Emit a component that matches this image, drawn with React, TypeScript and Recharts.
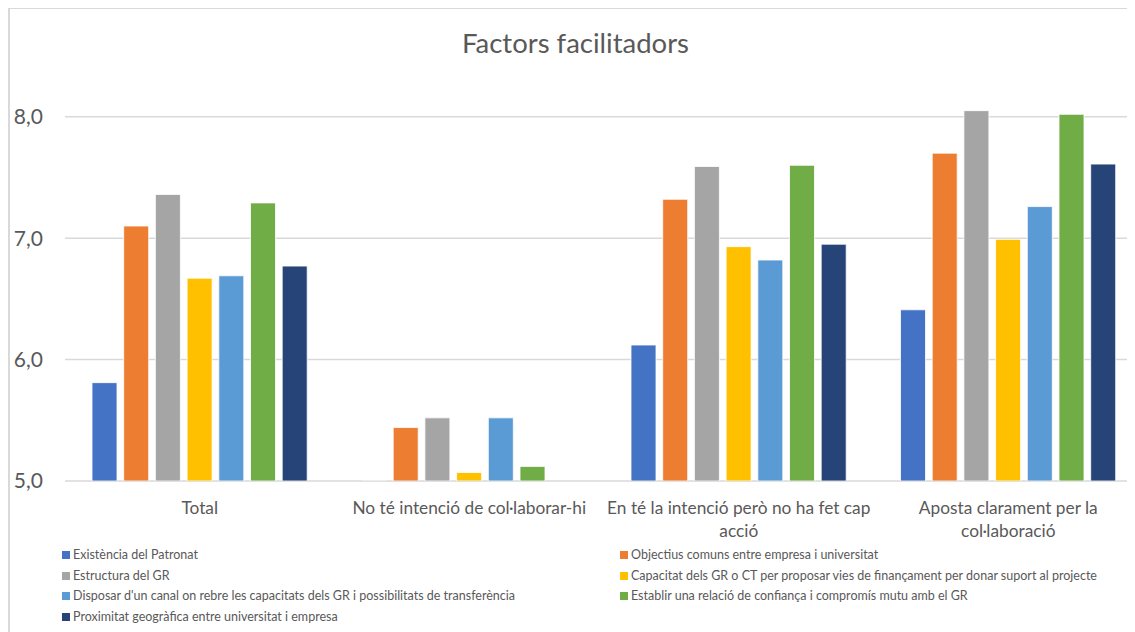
import { BarChart, Bar, XAxis, YAxis, CartesianGrid } from "recharts";

const categories = [
  "Total",
  "No té intenció de col·laborar-hi",
  "En té la intenció però no ha fet cap acció",
  "Aposta clarament per la col·laboració",
];

// un array per factor, en l'ordre de les categories
const patronat = [5.81, 4.99, 6.12, 6.41];
const objectius = [7.1, 5.44, 7.32, 7.7];
const estructura = [7.36, 5.52, 7.59, 8.05];
const capacitat = [6.67, 5.07, 6.93, 6.99];
const canal = [6.69, 5.52, 6.82, 7.26];
const confianca = [7.29, 5.12, 7.6, 8.02];
const proximitat = [6.77, null, 6.95, 7.61];

const yTicks = [5, 6, 7, 8];

const SERIES = [
  { key: "patronat", name: "Existència del Patronat", color: "#4472C4", values: patronat },
  { key: "objectius", name: "Objectius comuns entre empresa i universitat", color: "#ED7D31", values: objectius },
  { key: "estructura", name: "Estructura del GR", color: "#A5A5A5", values: estructura },
  {
    key: "capacitat",
    name: "Capacitat dels GR o CT per proposar vies de finançament per donar suport al projecte",
    color: "#FFC000",
    values: capacitat,
  },
  {
    key: "canal",
    name: "Disposar d'un canal on rebre les capacitats dels GR i possibilitats de transferència",
    color: "#5B9BD5",
    values: canal,
  },
  {
    key: "confianca",
    name: "Establir una relació de confiança i compromís mutu amb el GR",
    color: "#70AD47",
    values: confianca,
  },
  { key: "proximitat", name: "Proximitat geogràfica entre universitat i empresa", color: "#264478", values: proximitat },
];

const data = categories.map((cat, i) => {
  const row: any = { cat };
  SERIES.forEach((s) => (row[s.key] = s.values[i]));
  return row;
});

const FONT = "Lato, 'Open Sans', sans-serif";
const GREY = "#595959";
const CAT_FONT = 17.3;

// partir l'etiqueta en línies que càpiguen a l'amplada de la categoria
let ctx: CanvasRenderingContext2D | null = null;
const wrap = (label: string, maxW: number) => {
  if (!ctx) ctx = document.createElement("canvas").getContext("2d");
  ctx!.font = `${CAT_FONT}px Lato`;
  const words = label.split(" ");
  const lines: string[] = [];
  let cur = "";
  words.forEach((w) => {
    const test = cur ? cur + " " + w : w;
    if (cur && ctx!.measureText(test).width > maxW) {
      lines.push(cur);
      cur = w;
    } else cur = test;
  });
  if (cur) lines.push(cur);
  return lines;
};

const CategoryTick = ({ x, y, payload }: any) => {
  const lines = wrap(payload.value, 266);
  return (
    <text x={x} y={y} textAnchor="middle" fontSize={CAT_FONT} fontFamily={FONT} fill={GREY}>
      {lines.map((l, i) => (
        <tspan key={i} x={x} dy={i === 0 ? 33 : 23}>
          {l}
        </tspan>
      ))}
    </text>
  );
};

const formatTick = (v: number) => v.toFixed(1).replace(".", ",");

export default function App() {
  return (
    <div style={{ position: "relative", width: 1127, height: 625, marginTop: -1, overflow: "hidden", background: "#fff" }}>
      <div
        style={{
          position: "absolute",
          left: 0,
          top: 0,
          width: 1200,
          height: 700,
          borderTop: "2px solid #d9d9d9",
          borderLeft: "2px solid #d9d9d9",
          pointerEvents: "none",
          zIndex: 2,
        }}
      />
      <div
        style={{
          position: "absolute",
          left: 0,
          top: 19,
          width: 1135,
          textAlign: "center",
          fontFamily: FONT,
          fontSize: 27.5,
          color: GREY,
          zIndex: 1,
        }}
      >
        Factors facilitadors
      </div>
      <BarChart
        width={1135}
        height={625}
        data={data}
        margin={{ top: 49, right: 0, bottom: 91, left: 0 }}
        barSize={25}
        barGap={6.7}
        barCategoryGap={27}
      >
        <CartesianGrid vertical={false} horizontalValues={yTicks} stroke="#d9d9d9" strokeWidth={1.5} />
        <XAxis
          dataKey="cat"
          axisLine={false}
          tickLine={false}
          tickSize={0}
          tickMargin={0}
          interval={0}
          height={60}
          tick={<CategoryTick />}
        />
        <YAxis
          type="number"
          domain={[5, 8.5]}
          ticks={yTicks}
          allowDataOverflow
          axisLine={false}
          tickLine={false}
          tickSize={0}
          tickMargin={22}
          width={57}
          tickFormatter={formatTick}
          tick={{ fontSize: 21, fontFamily: FONT, fill: GREY }}
        />
        {SERIES.map((s) => (
          <Bar
            key={s.key}
            dataKey={s.key}
            name={s.name}
            fill={s.color}
            stroke="#ffffff"
            strokeWidth={0.8}
            isAnimationActive={false}
          />
        ))}
      </BarChart>
      {/* llegenda en dues columnes, ordre per files com a l'Excel */}
      <div
        style={{
          position: "absolute",
          left: 0,
          top: 540,
          width: 1120,
          height: 90,
          fontFamily: FONT,
          fontSize: 12.5,
          color: GREY,
        }}
      >
        {SERIES.map((s, i) => (
          <div
            key={s.key}
            style={{
              position: "absolute",
              left: i % 2 === 0 ? 54 : 612,
              top: Math.floor(i / 2) * 20.7,
              display: "flex",
              alignItems: "center",
              whiteSpace: "nowrap",
              lineHeight: "16px",
            }}
          >
            <span style={{ width: 8, height: 8, background: s.color, marginRight: 3, display: "inline-block" }} />
            {s.name}
          </div>
        ))}
      </div>
    </div>
  );
}
